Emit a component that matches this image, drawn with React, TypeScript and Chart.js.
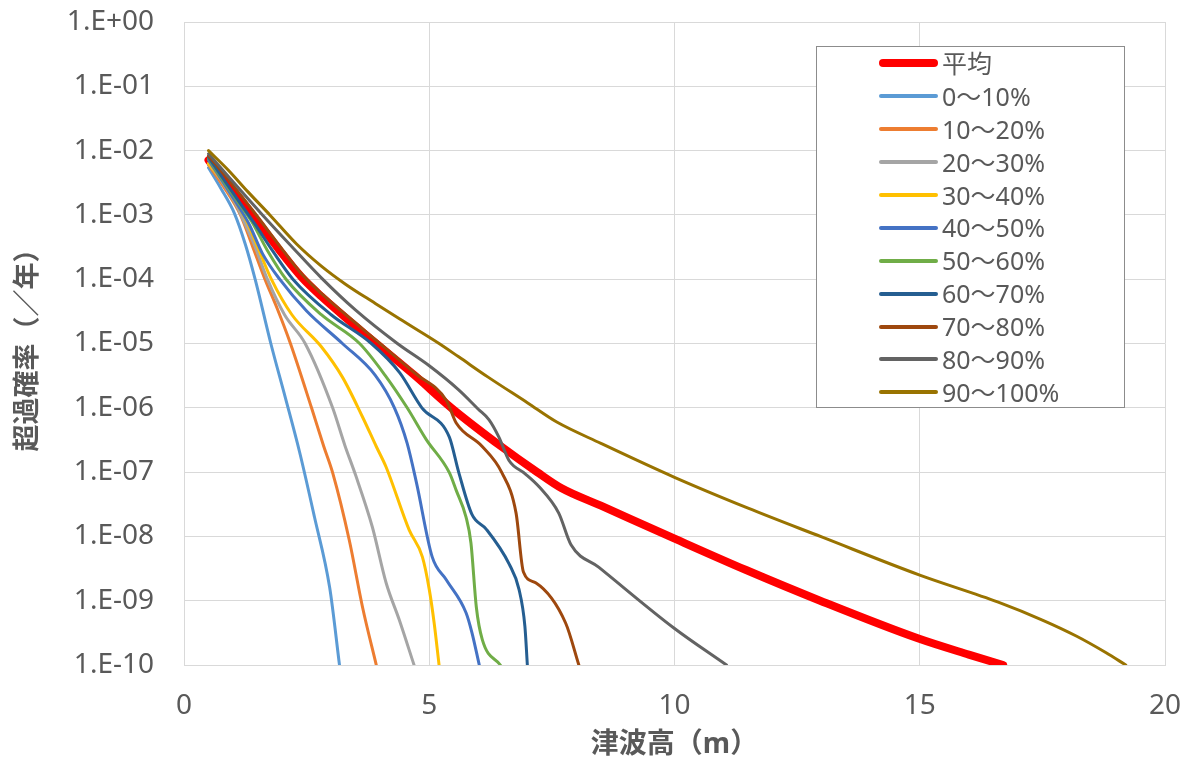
import React, { useEffect, useRef } from "react";
import { Chart, registerables } from "chart.js";

Chart.register(...registerables);

// ---- axis ticks ----
const X_TICKS = [0, 5, 10, 15, 20];
const X_TICK_LABELS = ["0", "5", "10", "15", "20"];
const Y_TICKS = [1e-10, 1e-9, 1e-8, 1e-7, 1e-6, 1e-5, 1e-4, 1e-3, 1e-2, 1e-1, 1];
const Y_TICK_LABELS = ["1.E-10", "1.E-09", "1.E-08", "1.E-07", "1.E-06", "1.E-05", "1.E-04", "1.E-03", "1.E-02", "1.E-01", "1.E+00"];

const X_TITLE = "津波高（m）";
const Y_TITLE = "超過確率（／年）";

// ---- series ----
const SERIES_LABELS = ["平均", "0～10%", "10～20%", "20～30%", "30～40%", "40～50%", "50～60%", "60～70%", "70～80%", "80～90%", "90～100%"];
const SERIES_COLORS = ["#FF0000", "#5B9BD5", "#ED7D31", "#A5A5A5", "#FFC000", "#4472C4", "#70AD47", "#255E91", "#9E480E", "#636363", "#997300"];

const AVG_X = [0.5, 0.95, 1.45, 1.95, 2.4, 2.8, 3.3, 3.92, 4.7, 5.45, 6.5, 7.2, 7.7, 8.5, 9.9, 11.46, 12.97, 14.96, 16.0, 16.7];
const AVG_Y = [7.1e-3, 2.7e-3, 8.9e-4, 2.8e-4, 1.07e-4, 5.4e-5, 2.5e-5, 1.0e-5, 3.2e-6, 1.0e-6, 2.4e-7, 1.0e-7, 5.6e-8, 3.0e-8, 1.0e-8, 3.0e-9, 1.0e-9, 2.6e-10, 1.45e-10, 1.0e-10];

const P00_10_X = [0.5, 0.75, 1.03, 1.25, 1.45, 1.77, 2.07, 2.36, 2.66, 2.97, 3.17];
const P00_10_Y = [5.4e-3, 2.6e-3, 1.05e-3, 3.5e-4, 1.0e-4, 1.0e-5, 1.4e-6, 2.0e-7, 2.0e-8, 1.6e-9, 1.0e-10];

const P10_20_X = [0.5, 0.8, 1.15, 1.4, 1.65, 1.9, 2.17, 2.6, 2.85, 3.03, 3.37, 3.64, 3.92];
const P10_20_Y = [6.0e-3, 2.8e-3, 1.0e-3, 3.2e-4, 1.0e-4, 3.5e-5, 1.0e-5, 1.0e-6, 2.5e-7, 9.8e-8, 8.7e-9, 7.9e-10, 1.0e-10];

const P20_30_X = [0.5, 0.8, 1.05, 1.25, 1.45, 1.7, 2.05, 2.47, 3.03, 3.28, 3.5, 3.84, 4.12, 4.39, 4.69];
const P20_30_Y = [6.3e-3, 3.1e-3, 1.5e-3, 7.1e-4, 3.2e-4, 1.0e-4, 2.8e-5, 1.0e-5, 1.0e-6, 2.6e-7, 8.9e-8, 1.4e-8, 1.9e-9, 5.0e-10, 1.0e-10];

const P30_40_X = [0.5, 0.8, 1.05, 1.28, 1.5, 1.78, 2.2, 2.8, 3.23, 3.64, 3.92, 4.12, 4.59, 4.86, 5.0, 5.1, 5.2];
const P30_40_Y = [6.3e-3, 3.2e-3, 1.6e-3, 7.9e-4, 3.2e-4, 1.0e-4, 2.8e-5, 8.9e-6, 3.0e-6, 7.2e-7, 2.5e-7, 1.2e-7, 1.26e-8, 4.8e-9, 1.5e-9, 4.5e-10, 1.0e-10];

const P40_50_X = [0.5, 0.85, 1.1, 1.33, 1.6, 1.95, 2.5, 3.23, 3.9, 4.29, 4.55, 4.74, 5.06, 5.35, 5.75, 5.87, 6.02];
const P40_50_Y = [7.1e-3, 2.8e-3, 1.4e-3, 7.1e-4, 2.5e-4, 1.0e-4, 3.2e-5, 1.0e-5, 3.2e-6, 1.0e-6, 2.8e-7, 6.8e-8, 4.8e-9, 2.1e-9, 6.5e-10, 3.2e-10, 1.0e-10];

const P50_60_X = [0.5, 0.85, 1.1, 1.38, 1.7, 2.08, 2.8, 3.58, 4.1, 4.55, 4.94, 5.41, 5.55, 5.75, 5.85, 5.96, 6.08, 6.45];
const P50_60_Y = [7.6e-3, 3.0e-3, 1.6e-3, 7.9e-4, 2.8e-4, 1.0e-4, 2.8e-5, 1.0e-5, 3.2e-6, 1.0e-6, 3.2e-7, 9.8e-8, 5.2e-8, 2.0e-8, 7.9e-9, 7.9e-10, 2.5e-10, 1.0e-10];

const P60_70_X = [0.5, 0.85, 1.15, 1.45, 1.8, 2.22, 3.0, 3.82, 4.4, 4.85, 5.41, 5.6, 5.87, 6.16, 6.63, 6.83, 6.95, 7.0];
const P60_70_Y = [7.9e-3, 3.2e-3, 1.5e-3, 7.1e-4, 2.8e-4, 1.0e-4, 2.8e-5, 1.0e-5, 3.5e-6, 1.0e-6, 3.5e-7, 1.0e-7, 2.2e-8, 1.3e-8, 3.7e-9, 1.5e-9, 4.0e-10, 1.0e-10];

const P70_80_X = [0.5, 0.95, 1.45, 1.95, 2.4, 2.8, 3.3, 3.95, 4.7, 5.35, 5.55, 6.08, 6.48, 6.77, 6.92, 7.17, 7.78, 8.05];
const P70_80_Y = [8.3e-3, 3.2e-3, 1.05e-3, 3.3e-4, 1.2e-4, 6.0e-5, 2.8e-5, 1.07e-5, 3.5e-6, 1.3e-6, 5.8e-7, 2.5e-7, 9.8e-8, 2.3e-8, 2.8e-9, 1.9e-9, 4.5e-10, 1.0e-10];

const P80_90_X = [0.5, 0.9, 1.6, 2.2, 2.8, 3.5, 4.35, 5.0, 5.6, 6.0, 6.22, 6.42, 6.63, 6.95, 7.24, 7.64, 7.89, 8.46, 9.98, 11.06];
const P80_90_Y = [8.9e-3, 4.0e-3, 1.0e-3, 3.2e-4, 1.05e-4, 3.3e-5, 1.0e-5, 4.5e-6, 1.9e-6, 9.5e-7, 6.5e-7, 3.5e-7, 1.5e-7, 9.5e-8, 5.9e-8, 2.3e-8, 7.4e-9, 3.3e-9, 3.8e-10, 1.0e-10];

const P90_100_X = [0.5, 0.9, 1.3, 1.75, 2.3, 2.8, 3.3, 3.9, 4.4, 5.2, 5.6, 6.2, 7.0, 7.6, 8.5, 10.0, 11.5, 13.0, 15.0, 16.6, 17.5, 18.2, 18.8, 19.2];
const P90_100_Y = [1.0e-2, 5.0e-3, 2.3e-3, 1.0e-3, 3.5e-4, 1.6e-4, 8.3e-5, 4.2e-5, 2.4e-5, 1.0e-5, 6.2e-6, 3.0e-6, 1.2e-6, 6.0e-7, 2.8e-7, 8.3e-8, 2.75e-8, 9.8e-9, 2.5e-9, 9.5e-10, 5.0e-10, 2.8e-10, 1.55e-10, 1.0e-10];

const SERIES_X = [AVG_X, P00_10_X, P10_20_X, P20_30_X, P30_40_X, P40_50_X, P50_60_X, P60_70_X, P70_80_X, P80_90_X, P90_100_X];
const SERIES_Y = [AVG_Y, P00_10_Y, P10_20_Y, P20_30_Y, P30_40_Y, P40_50_Y, P50_60_Y, P60_70_Y, P70_80_Y, P80_90_Y, P90_100_Y];

const FONT = "'Noto Sans', 'Noto Sans CJK JP', sans-serif";
const TEXT_COLOR = "#595959";
const GRID_COLOR = "#D9D9D9";

export default function App() {
  const ref = useRef<HTMLCanvasElement>(null);

  useEffect(() => {
    const datasets = SERIES_LABELS.map((label, i) => ({
      label,
      data: SERIES_X[i].map((x, j) => ({ x, y: SERIES_Y[i][j] })),
      borderColor: SERIES_COLORS[i],
      backgroundColor: SERIES_COLORS[i],
      borderWidth: i === 0 ? 8 : 3,
      pointRadius: 0,
      pointHoverRadius: 0,
      fill: false,
      cubicInterpolationMode: "monotone" as const,
      borderCapStyle: "round" as const,
      borderJoinStyle: "round" as const,
      clip: 0,
      order: i === 0 ? 20 : 11 - i,
    }));

    const zeroPad = (scale: any) => {
      scale.paddingTop = 0;
      scale.paddingBottom = 0;
      scale.paddingLeft = 0;
      scale.paddingRight = 0;
    };

    const chart = new Chart(ref.current as HTMLCanvasElement, {
      type: "line",
      data: { datasets },
      options: {
        animation: false,
        responsive: false,
        maintainAspectRatio: false,
        layout: { padding: { left: 0, right: 30, top: 22, bottom: 0 } },
        plugins: {
          legend: { display: false },
          tooltip: { enabled: false },
        },
        scales: {
          x: {
            type: "linear",
            min: 0,
            max: 20,
            afterBuildTicks: (scale: any) => {
              scale.ticks = X_TICKS.map((v) => ({ value: v }));
            },
            afterFit: (scale: any) => {
              scale.height = 105;
              zeroPad(scale);
            },
            grid: { color: GRID_COLOR, lineWidth: 1, drawTicks: false },
            border: { color: GRID_COLOR, width: 1 },
            ticks: {
              padding: 24,
              color: TEXT_COLOR,
              font: { family: FONT, size: 28 },
              maxRotation: 0,
              callback: (v: any) => X_TICK_LABELS[X_TICKS.indexOf(Number(v))] ?? "",
            },
            title: {
              display: true,
              text: X_TITLE,
              color: TEXT_COLOR,
              font: { family: FONT, size: 28, weight: "bold" },
              padding: { top: 0, bottom: 8 },
            },
          },
          y: {
            type: "logarithmic",
            min: 1e-10,
            max: 1,
            afterBuildTicks: (scale: any) => {
              scale.ticks = Y_TICKS.map((v) => ({ value: v }));
            },
            afterFit: (scale: any) => {
              scale.width = 184;
              zeroPad(scale);
            },
            grid: { color: GRID_COLOR, lineWidth: 1, drawTicks: false },
            border: { color: GRID_COLOR, width: 1 },
            ticks: {
              padding: 30,
              color: TEXT_COLOR,
              font: { family: FONT, size: 28 },
              autoSkip: false,
              callback: (v: any) => Y_TICK_LABELS[Y_TICKS.indexOf(Number(v))] ?? "",
            },
            title: {
              display: true,
              text: Y_TITLE,
              color: TEXT_COLOR,
              font: { family: FONT, size: 27, weight: "bold" },
              padding: { top: 12, bottom: 0 },
            },
          },
        },
      },
    });
    return () => chart.destroy();
  }, []);

  return (
    <div
      style={{
        position: "absolute",
        left: 0,
        top: 0,
        width: 1195,
        height: 770,
        background: "#ffffff",
        overflow: "hidden",
      }}
    >
      <canvas ref={ref} width={1195} height={770} style={{ display: "block" }} />
      <div
        style={{
          position: "absolute",
          left: 816,
          top: 46,
          width: 307,
          height: 360,
          border: "1px solid #8C8C8C",
          background: "#ffffff",
          fontFamily: FONT,
          color: TEXT_COLOR,
        }}
      >
        {SERIES_LABELS.map((label, i) => (
          <div
            key={label}
            style={{ height: 32.9, display: "flex", alignItems: "center", whiteSpace: "nowrap" }}
          >
            <div
              style={{
                marginLeft: 62,
                width: 59,
                height: i === 0 ? 8 : 4,
                borderRadius: 4,
                background: SERIES_COLORS[i],
              }}
            />
            <span style={{ marginLeft: 4, fontSize: 25, lineHeight: 1 }}>{label}</span>
          </div>
        ))}
      </div>
    </div>
  );
}
